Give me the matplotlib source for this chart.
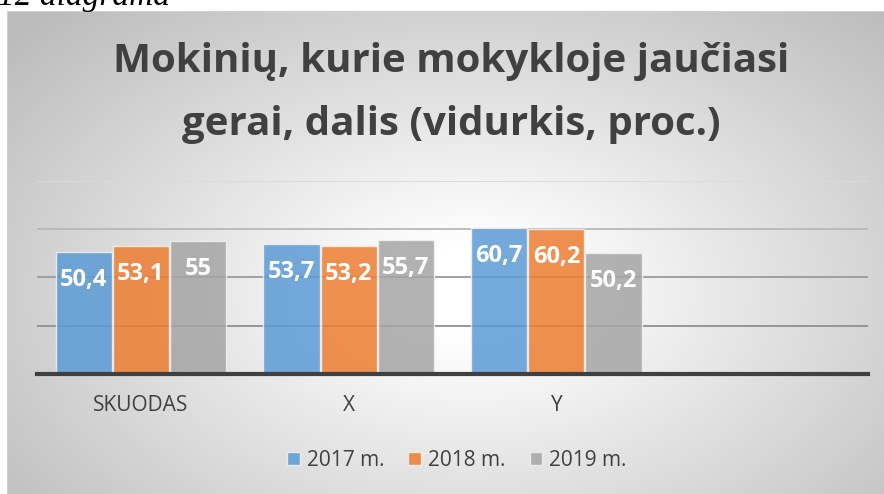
import numpy as np
import matplotlib.pyplot as plt

# Data
categories = ["SKUODAS", "X", "Y", ""]
series_names = ["2017 m.", "2018 m.", "2019 m."]
values_2017 = [50.4, 53.7, 60.7]
values_2018 = [53.1, 53.2, 60.2]
values_2019 = [55, 55.7, 50.2]
colors = ["#5b9bd5", "#ed7d31", "#a5a5a5"]
title = "Mokinių, kurie mokykloje jaučiasi\ngerai, dalis (vidurkis, proc.)"
caption = "12 diagrama"

W, H = 884, 494
plt.rcParams["font.family"] = ["Open Sans", "DejaVu Sans"]

fig = plt.figure(figsize=(W / 100, H / 100), dpi=100, facecolor="white")

# Chart area background with radial gradient
bg_left, bg_top = 7, 11
bg = fig.add_axes([bg_left / W, 0, 1 - bg_left / W, (H - bg_top) / H])
bg.set_axis_off()
ny, nx = 300, 500
yy, xx = np.mgrid[0:ny, 0:nx]
px = bg_left + xx / nx * (W - bg_left)
py = bg_top + yy / ny * (H - bg_top)
r = np.sqrt(((px - 470) / 470) ** 2 + ((py - 290) / 300) ** 2)
shade = 1.0 - 0.22 * np.clip((r - 0.15) / 0.95, 0, 1.2)
bg.imshow(np.dstack([shade] * 3), aspect="auto", extent=[0, 1, 0, 1],
          interpolation="bilinear")
bg.set_xlim(0, 1)
bg.set_ylim(0, 1)
bg.plot([0, 1], [1, 1], color="#d0d0d0", lw=1.5)
bg.plot([0, 0], [0, 1], color="#d0d0d0", lw=1.5)

# Plot area
left, right, top, bottom = 37, 868, 181, 374
ax = fig.add_axes([left / W, (H - bottom) / H, (right - left) / W, (bottom - top) / H])
ax.patch.set_alpha(0)

x = np.arange(len(categories))
all_values = [values_2017, values_2018, values_2019]
width = 0.27
offsets = [-0.275, 0, 0.275]
for vals, off, col, name in zip(all_values, offsets, colors, series_names):
    xs = x[:len(vals)] + off
    bars = ax.bar(xs, vals, width, color=col, alpha=0.85, edgecolor="#f2f2f2",
                  linewidth=1, label=name, zorder=3)
    for b, v in zip(bars, vals):
        ax.annotate(f"{v:g}".replace(".", ","), (b.get_x() + b.get_width() / 2, v),
                    xytext=(0, -28), textcoords="offset pixels",
                    ha="center", va="center", color="white",
                    fontsize=17, fontweight="bold", zorder=4)

ax.set_xlim(-0.5, 3.5)
ax.set_ylim(0, 80)
ax.set_yticks([20, 40, 60, 80])
ax.yaxis.grid(True, zorder=1)
grid_colors = ["#8f8f8f", "#9a9a9a", "#b8b8b8", "#dadada"]
for gl, gc in zip(ax.get_ygridlines(), grid_colors):
    gl.set_color(gc)
    gl.set_linewidth(1.3)
ax.tick_params(axis="y", left=False, labelleft=False)
ax.set_xticks(x)
ax.set_xticklabels(categories, fontsize=15, color="#404040")
ax.tick_params(axis="x", length=0, pad=15)
for s in ["top", "right", "left"]:
    ax.spines[s].set_visible(False)
ax.spines["bottom"].set_color("#404040")
ax.spines["bottom"].set_linewidth(3)
ax.spines["bottom"].set_zorder(5)

# Title and caption
fig.text(451 / W, 1 - 42 / H, title, ha="center", va="top", fontsize=29,
         fontweight="bold", color="#404040", linespacing=1.8)
fig.text(-2 / W, 1 - 5 / H, caption, ha="left", va="baseline", fontsize=24,
         style="italic", family="Liberation Serif", color="black")

# Legend
handles, labels = ax.get_legend_handles_labels()
fig.legend(handles, labels, loc="center", bbox_to_anchor=(457 / W, (H - 460) / H),
           ncol=3, frameon=False, fontsize=15, labelcolor="#404040",
           handlelength=0.6, handleheight=0.6, handletextpad=0.35,
           columnspacing=1.15)

fig.savefig("out.png", dpi=100, facecolor="white")
